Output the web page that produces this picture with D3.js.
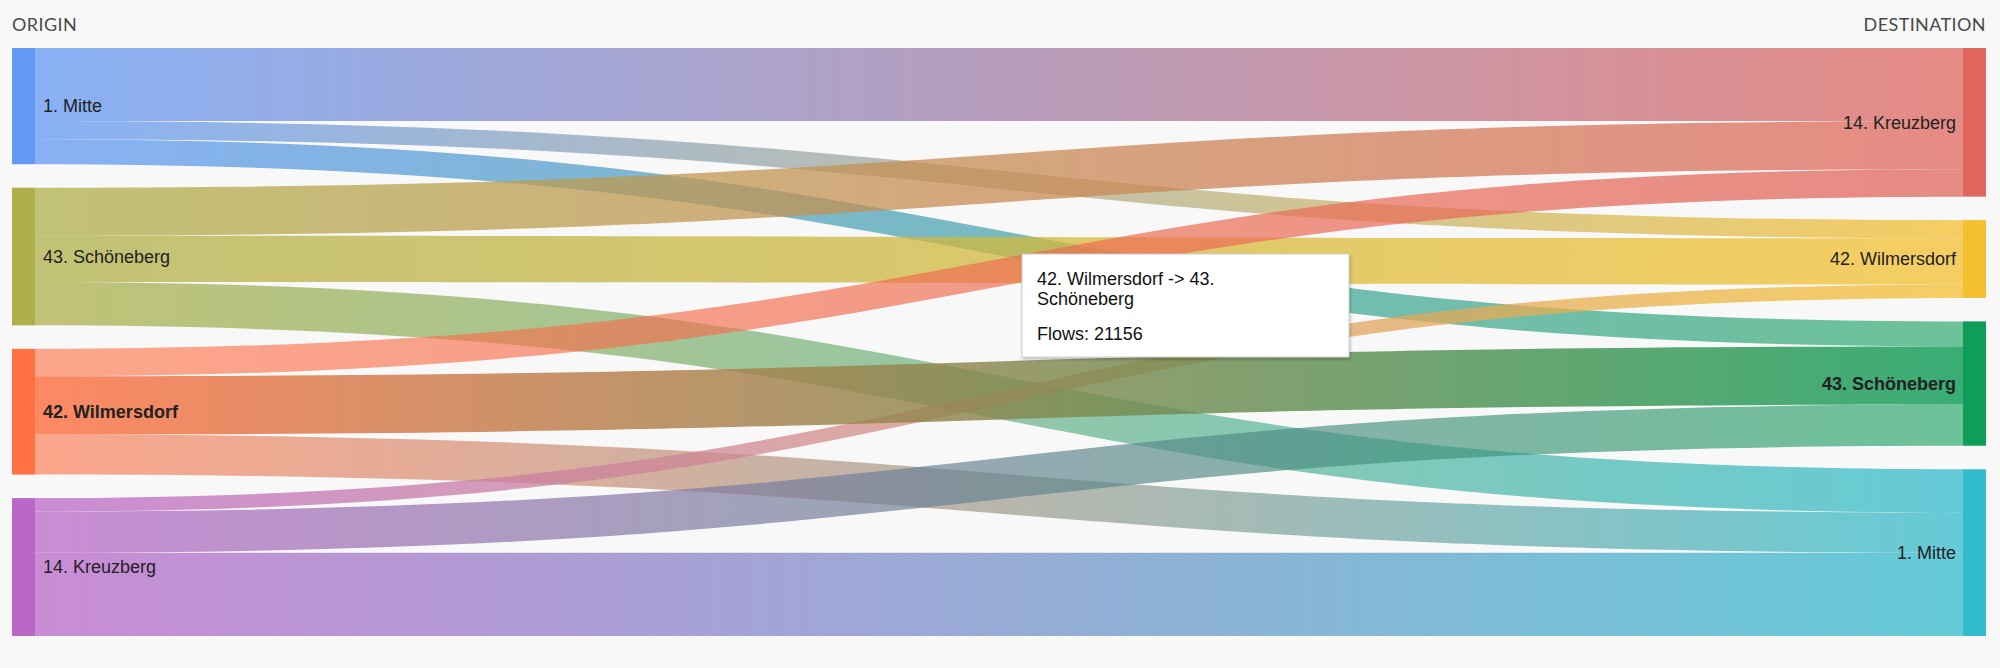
<!DOCTYPE html>
<html>
<head>
<meta charset="utf-8">
<script src="https://cdn.jsdelivr.net/npm/d3@7"></script>
<style>
  html, body { margin: 0; padding: 0; background: #f8f8f8; }
  svg { display: block; }
</style>
</head>
<body>
<svg id="chart" width="2000" height="668"></svg>
<script>
// ---- data ----
const originNames = ["1. Mitte", "43. Schöneberg", "42. Wilmersdorf", "14. Kreuzberg"];
const destinationNames = ["14. Kreuzberg", "42. Wilmersdorf", "43. Schöneberg", "1. Mitte"];
const originColors = ["#6399f4", "#afb04a", "#ff7043", "#ba68c8"];
const destinationColors = ["#e0665e", "#f4c030", "#0f9d58", "#33bccc"];
const flowOrigin      = [0, 0, 0, 1, 1, 1, 2, 2, 2, 3, 3, 3];
const flowDestination = [0, 1, 2, 0, 1, 3, 0, 2, 3, 1, 2, 3];
const flowValues      = [26600, 6600, 9100, 17500, 16800, 15800, 10000, 21156, 14600, 4900, 15000, 30300];
const hoveredFlow = 7;
const columnTitles = ["ORIGIN", "DESTINATION"];

// ---- layout ----
const W = 2000, H = 668;
const yTop = 48, yBottom = 636, nodePad = 23.5, nodeW = 23;
const xCol = d3.scaleLinear().domain([0, 1]).range([12, 1986 - nodeW]);

const links = flowValues.map((v, i) => ({ i, s: flowOrigin[i], t: flowDestination[i], value: v }));
const srcTotals = originNames.map((_, k) => d3.sum(links.filter(l => l.s === k), l => l.value));
const tgtTotals = destinationNames.map((_, k) => d3.sum(links.filter(l => l.t === k), l => l.value));
const maxTotal = Math.max(d3.sum(srcTotals), d3.sum(tgtTotals));
const y = d3.scaleLinear().domain([0, maxTotal])
  .range([0, (yBottom - yTop) - nodePad * (originNames.length - 1)]);

function stackNodes(totals) {
  let cur = yTop;
  return totals.map(t => { const n = { y0: cur, y1: cur + y(t) }; cur = n.y1 + nodePad; return n; });
}
const srcNodes = stackNodes(srcTotals);
const tgtNodes = stackNodes(tgtTotals);

originNames.forEach((_, k) => {
  let cur = srcNodes[k].y0;
  links.filter(l => l.s === k).sort((a, b) => a.t - b.t).forEach(l => { l.sy0 = cur; cur += y(l.value); l.sy1 = cur; });
});
destinationNames.forEach((_, k) => {
  let cur = tgtNodes[k].y0;
  links.filter(l => l.t === k).sort((a, b) => a.s - b.s).forEach(l => { l.ty0 = cur; cur += y(l.value); l.ty1 = cur; });
});

const svg = d3.select("#chart");
svg.append("rect").attr("width", W).attr("height", H).attr("fill", "#f8f8f8");
const defs = svg.append("defs");

const lx0 = xCol(0) + nodeW, lx1 = xCol(1);
const hov = links[hoveredFlow];

function endOpacity(l, side) {
  if (l.i === hoveredFlow) return 0.82;
  if (side === "s" && l.s === hov.s) return 0.6;
  if (side === "t" && l.t === hov.t) return 0.6;
  return 0.75;
}

links.forEach(l => {
  const g = defs.append("linearGradient").attr("id", "g" + l.i)
    .attr("gradientUnits", "userSpaceOnUse")
    .attr("x1", lx0).attr("x2", lx1).attr("y1", 0).attr("y2", 0);
  g.append("stop").attr("offset", "0%").attr("stop-color", originColors[l.s]).attr("stop-opacity", endOpacity(l, "s"));
  g.append("stop").attr("offset", "100%").attr("stop-color", destinationColors[l.t]).attr("stop-opacity", endOpacity(l, "t"));
});

function linkPath(l) {
  const xm = (lx0 + lx1) / 2;
  const p = d3.path();
  p.moveTo(lx0, l.sy0);
  p.bezierCurveTo(xm, l.sy0, xm, l.ty0, lx1, l.ty0);
  p.lineTo(lx1, l.ty1);
  p.bezierCurveTo(xm, l.ty1, xm, l.sy1, lx0, l.sy1);
  p.closePath();
  return p.toString();
}

const ordered = links.filter(l => l.i !== hoveredFlow).concat([hov]);
svg.append("g").selectAll("path").data(ordered).join("path")
  .attr("d", linkPath)
  .attr("fill", l => `url(#g${l.i})`);

// nodes
svg.append("g").selectAll("rect").data(srcNodes).join("rect")
  .attr("x", xCol(0)).attr("width", nodeW)
  .attr("y", d => d.y0).attr("height", d => d.y1 - d.y0)
  .attr("fill", (d, i) => originColors[i]);
svg.append("g").selectAll("rect").data(tgtNodes).join("rect")
  .attr("x", xCol(1)).attr("width", nodeW)
  .attr("y", d => d.y0).attr("height", d => d.y1 - d.y0)
  .attr("fill", (d, i) => destinationColors[i]);

// labels
const labelFont = "'Liberation Sans', Arial, sans-serif";
svg.append("g").selectAll("text").data(srcNodes).join("text")
  .attr("x", xCol(0) + nodeW + 8).attr("y", d => (d.y0 + d.y1) / 2)
  .attr("dy", "0.35em")
  .attr("font-family", labelFont).attr("font-size", 18).attr("fill", "#222")
  .attr("font-weight", (d, i) => i === hov.s ? "bold" : "normal")
  .text((d, i) => originNames[i]);
svg.append("g").selectAll("text").data(tgtNodes).join("text")
  .attr("x", xCol(1) - 7).attr("y", d => (d.y0 + d.y1) / 2)
  .attr("dy", "0.35em").attr("text-anchor", "end")
  .attr("font-family", labelFont).attr("font-size", 18).attr("fill", "#222")
  .attr("font-weight", (d, i) => i === hov.t ? "bold" : "normal")
  .text((d, i) => destinationNames[i]);

// column titles
svg.append("text").attr("x", 12).attr("y", 31)
  .attr("font-family", "Lato, 'Open Sans', sans-serif").attr("font-size", 18)
  .attr("letter-spacing", "0.4").attr("fill", "#4a4a4a").text(columnTitles[0]);
svg.append("text").attr("x", 1986).attr("y", 31).attr("text-anchor", "end")
  .attr("font-family", "Lato, 'Open Sans', sans-serif").attr("font-size", 18)
  .attr("letter-spacing", "0.4").attr("fill", "#4a4a4a").text(columnTitles[1]);

// tooltip
const f = defs.append("filter").attr("id", "shadow").attr("x", "-10%").attr("y", "-10%").attr("width", "130%").attr("height", "140%");
f.append("feDropShadow").attr("dx", 1).attr("dy", 2).attr("stdDeviation", 1.5).attr("flood-color", "#000").attr("flood-opacity", 0.25);
const tip = svg.append("g").attr("transform", "translate(1022,254)");
tip.append("rect").attr("width", 327).attr("height", 103)
  .attr("fill", "#fff").attr("stroke", "#cccccc").attr("stroke-width", 1)
  .attr("filter", "url(#shadow)");
const tName = destinationNames[hov.t];
const cut = tName.indexOf(" ");
const tipLines = [
  { text: originNames[hov.s] + " -> " + tName.slice(0, cut), y: 31 },
  { text: tName.slice(cut + 1), y: 51 },
  { text: "Flows: " + hov.value, y: 86 }
];
tip.selectAll("text").data(tipLines).join("text")
  .attr("x", 15).attr("y", d => d.y)
  .attr("font-family", labelFont).attr("font-size", 18).attr("fill", "#111")
  .text(d => d.text);
</script>
</body>
</html>
